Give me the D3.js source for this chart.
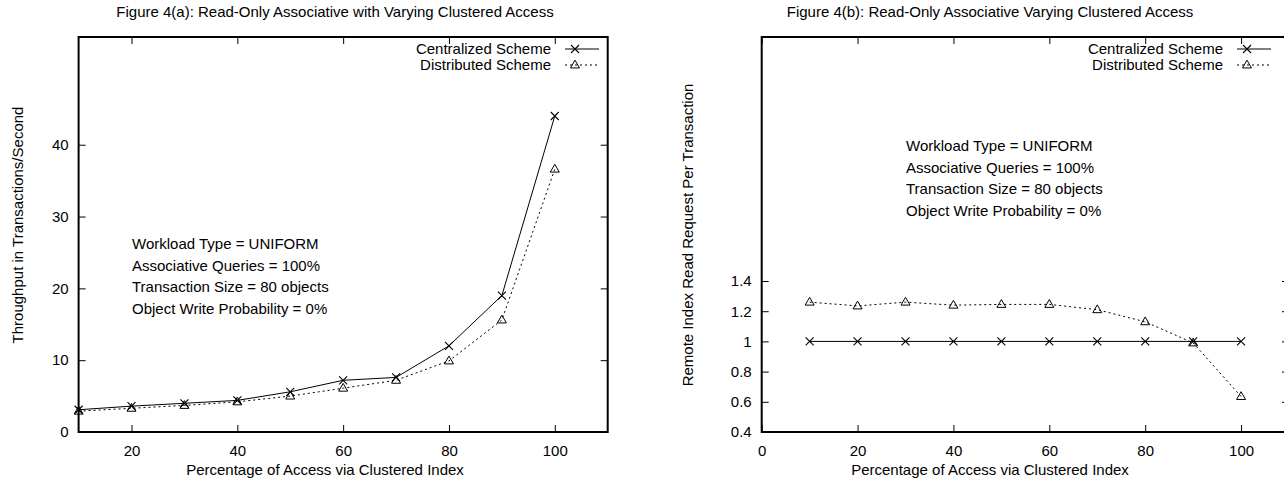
<!DOCTYPE html>
<html>
<head>
<meta charset="utf-8">
<script src="https://cdn.jsdelivr.net/npm/d3@7"></script>
<style>
  body { margin: 0; background: #fff; }
  svg text { font-family: "Liberation Sans", Arial, Helvetica, sans-serif; fill: #000; }
</style>
</head>
<body>
<div id="chart"></div>
<script>
// data
var accessPct = [10, 20, 30, 40, 50, 60, 70, 80, 90, 100];

var throughputCentral = [3.1, 3.6, 4.0, 4.4, 5.6, 7.2, 7.6, 12.0, 19.0, 44.0];
var throughputDistrib = [2.9, 3.3, 3.7, 4.2, 5.0, 6.1, 7.2, 9.9, 15.6, 36.6];

var remoteCentral = [1.0, 1.0, 1.0, 1.0, 1.0, 1.0, 1.0, 1.0, 1.0, 1.0];
var remoteDistrib = [1.26, 1.235, 1.26, 1.24, 1.245, 1.245, 1.21, 1.13, 0.99, 0.635];

var seriesNames = ["Centralized Scheme", "Distributed Scheme"];
var workloadNotes = [
  "Workload Type = UNIFORM",
  "Associative Queries = 100%",
  "Transaction Size = 80 objects",
  "Object Write Probability = 0%"
];

var xTicksA = [20, 40, 60, 80, 100];
var yTicksA = [0, 10, 20, 30, 40];
var xTicksB = [0, 20, 40, 60, 80, 100];
var yTicksB = [0.4, 0.6, 0.8, 1.0, 1.2, 1.4];

var svgWidth = 1284;
var svgHeight = 480;
var fontSize = "15px";

var svg = d3.select("#chart")
  .append("svg")
  .attr("width", svgWidth)
  .attr("height", svgHeight);

var plotTop = 37;
var plotBottom = 432;

function trianglePath(size) {
  var h = size * 0.866;
  return "M0," + (-h * 0.62) + "L" + (size / 2) + "," + (h * 0.38) + "L" + (-size / 2) + "," + (h * 0.38) + "Z";
}

function drawCross(g, x, y) {
  g.append("path")
    .attr("d", "M" + (x - 4) + "," + (y - 4) + "L" + (x + 4) + "," + (y + 4) +
      "M" + (x - 4) + "," + (y + 4) + "L" + (x + 4) + "," + (y - 4))
    .attr("stroke", "#000")
    .attr("stroke-width", 1.1)
    .attr("fill", "none");
}

function drawTriangle(g, x, y) {
  g.append("path")
    .attr("d", trianglePath(9))
    .attr("transform", "translate(" + x + "," + y + ")")
    .attr("stroke", "#000")
    .attr("stroke-width", 1)
    .attr("fill", "none");
}

function drawPanel(opt) {
  var g = svg.append("g");

  var xScale = d3.scaleLinear()
    .domain(opt.xDomain)
    .range([opt.left, opt.right]);

  var yScale = d3.scaleLinear()
    .domain(opt.yDomain)
    .range([plotBottom, plotTop]);

  // ticks (inward, gnuplot style)
  var xAxis = d3.axisBottom(xScale)
    .tickValues(opt.xTicks)
    .tickSizeInner(-7)
    .tickSizeOuter(0)
    .tickPadding(13)
    .tickFormat(d3.format("d"));

  g.append("g")
    .attr("transform", "translate(0," + plotBottom + ")")
    .call(xAxis)
    .call(a => a.select(".domain").remove())
    .call(a => a.selectAll("text").attr("font-size", fontSize).attr("font-family", "Liberation Sans, Arial, sans-serif"));

  g.append("g")
    .attr("transform", "translate(0," + plotTop + ")")
    .call(d3.axisTop(xScale).tickValues(opt.xTicks).tickSizeInner(-7).tickSizeOuter(0).tickFormat(""))
    .call(a => a.select(".domain").remove());

  var yAxis = d3.axisLeft(yScale)
    .tickValues(opt.yTicks)
    .tickSizeInner(-7)
    .tickSizeOuter(0)
    .tickPadding(10)
    .tickFormat(opt.yFormat);

  g.append("g")
    .attr("transform", "translate(" + opt.left + ",0)")
    .call(yAxis)
    .call(a => a.select(".domain").remove())
    .call(a => a.selectAll("text").attr("font-size", fontSize).attr("font-family", "Liberation Sans, Arial, sans-serif"));

  g.append("g")
    .attr("transform", "translate(" + opt.right + ",0)")
    .call(d3.axisRight(yScale).tickValues(opt.yTicks).tickSizeInner(-7).tickSizeOuter(0).tickFormat(""))
    .call(a => a.select(".domain").remove());

  g.selectAll(".tick line").attr("stroke", "#000").attr("stroke-width", 1);

  // border
  g.append("rect")
    .attr("x", opt.left)
    .attr("y", plotTop)
    .attr("width", opt.right - opt.left)
    .attr("height", plotBottom - plotTop)
    .attr("fill", "none")
    .attr("stroke", "#000")
    .attr("stroke-width", 2);

  // series
  var line = d3.line()
    .x((d, i) => xScale(accessPct[i]))
    .y(d => yScale(d));

  g.append("path")
    .datum(opt.central)
    .attr("d", line)
    .attr("fill", "none")
    .attr("stroke", "#000")
    .attr("stroke-width", 1);

  g.append("path")
    .datum(opt.distrib)
    .attr("d", line)
    .attr("fill", "none")
    .attr("stroke", "#000")
    .attr("stroke-width", 1)
    .attr("stroke-dasharray", "2,3");

  opt.central.forEach(function (v, i) {
    drawCross(g, xScale(accessPct[i]), yScale(v));
  });
  opt.distrib.forEach(function (v, i) {
    drawTriangle(g, xScale(accessPct[i]), yScale(v));
  });

  // legend
  var legX = opt.legendX;
  seriesNames.forEach(function (name, i) {
    var ly = 49 + i * 16;
    g.append("text")
      .attr("x", legX)
      .attr("y", ly)
      .attr("dy", "0.35em")
      .attr("text-anchor", "end")
      .attr("font-size", fontSize)
      .text(name);
    g.append("line")
      .attr("x1", legX + 14)
      .attr("x2", legX + 48)
      .attr("y1", ly)
      .attr("y2", ly)
      .attr("stroke", "#000")
      .attr("stroke-width", 1)
      .attr("stroke-dasharray", i === 0 ? null : "2,3");
    if (i === 0) {
      drawCross(g, legX + 24, ly);
    } else {
      drawTriangle(g, legX + 24, ly);
    }
  });

  // workload notes
  workloadNotes.forEach(function (t, i) {
    g.append("text")
      .attr("x", opt.noteX)
      .attr("y", opt.noteY + i * 21.5)
      .attr("dy", "0.35em")
      .attr("font-size", fontSize)
      .text(t);
  });

  // titles
  g.append("text")
    .attr("x", opt.titleX)
    .attr("y", 12)
    .attr("dy", "0.35em")
    .attr("text-anchor", "middle")
    .attr("font-size", fontSize)
    .text(opt.title);

  g.append("text")
    .attr("x", opt.xLabelX)
    .attr("y", 470)
    .attr("dy", "0.35em")
    .attr("text-anchor", "middle")
    .attr("font-size", fontSize)
    .text("Percentage of Access via Clustered Index");

  g.append("text")
    .attr("transform", "translate(" + opt.yLabelX + "," + opt.yLabelY + ") rotate(-90)")
    .attr("dy", "0.35em")
    .attr("text-anchor", "middle")
    .attr("font-size", fontSize)
    .text(opt.yLabel);
}

drawPanel({
  left: 78.6,
  right: 607.7,
  xDomain: [10, 110],
  yDomain: [0, 55],
  xTicks: xTicksA,
  yTicks: yTicksA,
  yFormat: d3.format("d"),
  central: throughputCentral,
  distrib: throughputDistrib,
  legendX: 551,
  noteX: 132,
  noteY: 244,
  titleX: 335,
  xLabelX: 325,
  yLabelX: 18,
  yLabelY: 225,
  yLabel: "Throughput in Transactions/Second",
  title: "Figure 4(a): Read-Only Associative with Varying Clustered Access"
});

drawPanel({
  left: 761.7,
  right: 1289,
  xDomain: [0, 110],
  yDomain: [0.4, 3.016],
  xTicks: xTicksB,
  yTicks: yTicksB,
  yFormat: d => d3.format("")(+d.toFixed(1)),
  central: remoteCentral,
  distrib: remoteDistrib,
  legendX: 1223,
  noteX: 906,
  noteY: 146,
  titleX: 990,
  xLabelX: 990,
  yLabelX: 688,
  yLabelY: 235,
  yLabel: "Remote Index Read Request Per Transaction",
  title: "Figure 4(b): Read-Only Associative Varying Clustered Access"
});
</script>
</body>
</html>
